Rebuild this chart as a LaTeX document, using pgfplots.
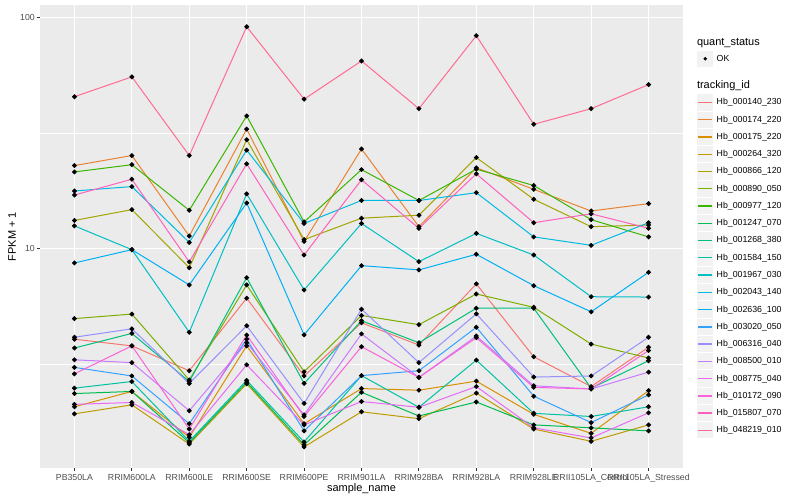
\documentclass[border=0pt]{standalone}
\usepackage{fontspec}
\setmainfont{Liberation Sans}
\usepackage{pgfplots}
\usepackage{pgfplotstable}
\pgfplotsset{compat=1.18}

\definecolor{ggbg}{HTML}{EBEBEB}
\definecolor{keybg}{HTML}{F2F2F2}
\definecolor{grey30}{HTML}{4D4D4D}
\definecolor{grey20}{HTML}{333333}
\definecolor{c01}{HTML}{F8766D}
\definecolor{c02}{HTML}{EA8331}
\definecolor{c03}{HTML}{D89000}
\definecolor{c04}{HTML}{C09B00}
\definecolor{c05}{HTML}{A3A500}
\definecolor{c06}{HTML}{7CAE00}
\definecolor{c07}{HTML}{39B600}
\definecolor{c08}{HTML}{00BB4E}
\definecolor{c09}{HTML}{00BF7D}
\definecolor{c10}{HTML}{00C1A3}
\definecolor{c11}{HTML}{00BFC4}
\definecolor{c12}{HTML}{00BAE0}
\definecolor{c13}{HTML}{00B0F6}
\definecolor{c14}{HTML}{35A2FF}
\definecolor{c15}{HTML}{9590FF}
\definecolor{c16}{HTML}{C77CFF}
\definecolor{c17}{HTML}{E76BF3}
\definecolor{c18}{HTML}{FA62DB}
\definecolor{c19}{HTML}{FF62BC}
\definecolor{c20}{HTML}{FF6C91}

\pgfplotstableread{
x  s140 s174 s175 s264 s866 s890 s977 s1247 s1268 s1584 s1967 s2043 s2636 s3020 s6316 s8500 s8775 s10172 s15807 s48219
0  4.04 22.8 2.06 1.92 13.2 4.96 21.4 2.35 3.70 2.48 12.5 17.7 8.64 3.05 4.12 3.29 2.11 2.86 17.0 45.3
1  3.78 25.2 2.40 2.10 14.7 5.19 23.0 2.40 4.28 2.65 9.86 18.5 9.86 2.80 4.48 3.20 2.15 3.78 19.9 55.2
2  2.95 11.3 1.52 1.42 8.24 2.69 14.6 1.44 2.65 1.46 4.33 10.6 6.94 1.74 2.60 1.98 1.56 1.65 8.73 25.2
3  6.08 32.8 3.78 2.59 29.5 6.94 37.4 2.63 7.46 2.68 17.2 26.6 15.7 4.04 4.62 3.90 3.13 4.21 23.2 91.0
4  2.80 10.7 1.74 1.38 10.9 2.92 13.0 1.41 2.60 1.45 6.60 12.8 4.22 1.62 2.13 1.90 1.72 1.87 9.35 44.2
5  4.76 26.9 2.47 1.96 13.5 5.12 21.9 2.38 4.86 2.81 12.8 16.1 8.41 2.81 5.45 4.26 2.17 3.75 19.8 64.7
6  3.81 12.4 2.43 1.83 13.9 4.67 16.1 1.88 3.90 2.05 8.75 16.1 8.06 2.95 3.20 2.76 2.05 2.76 12.2 40.2
7  7.01 22.3 2.66 2.36 24.7 6.34 22.0 2.16 5.50 3.28 11.6 17.4 9.42 4.55 5.20 4.17 2.52 4.10 21.0 83.2
8  3.39 18.0 1.91 1.65 16.3 5.55 18.7 1.72 5.50 1.93 9.35 11.2 6.89 2.29 2.77 2.54 1.67 2.50 12.9 34.4
9  2.52 14.5 1.58 1.46 12.4 3.85 13.3 1.67 2.48 1.87 6.17 10.3 5.31 1.76 2.80 2.46 1.51 2.46 14.1 40.2
10 3.73 15.6 2.42 1.72 12.6 3.35 11.2 1.62 3.26 2.06 6.15 12.9 7.87 2.32 4.12 2.91 1.94 3.61 12.2 51.1
}\data

\newcommand\lstrut{\rule[-2bp]{0pt}{8.4bp}}
\newcommand\tstrut{\rule[-2bp]{0pt}{9.9bp}}

\begin{document}
\begin{tikzpicture}
\path[use as bounding box] (0,0) rectangle (800bp,500bp);
\begin{axis}[
  at={(40bp,32bp)}, anchor=south west,
  scale only axis, width=643bp, height=463bp,
  ymode=log, ymin=1.119, ymax=113.0,
  xmin=-0.6, xmax=10.6,
  xtick={0,...,10},
  xticklabels={PB350LA,RRIM600LA,RRIM600LE,RRIM600SE,RRIM600PE,RRIM901LA,RRIM928BA,RRIM928LA,RRIM928LE,RRII105LA\_Control,RRII105LA\_Stressed},
  ytick={10,100}, yticklabels={10,100},
  minor ytick={3.1623,31.623},
  minor tick length=0pt,
  major tick length=2.75bp,
  tick align=outside, tick pos=left,
  tick style={grey20, line width=1.07bp},
  grid=both,
  major grid style={white, line width=1.07bp},
  minor grid style={white, line width=0.53bp},
  axis line style={draw=none},
  axis background/.style={fill=ggbg},
  ticklabel style={font=\fontsize{8.8}{10}\selectfont, text=grey30, inner sep=0pt},
  xticklabel style={anchor=north, yshift=-3.7bp},
  yticklabel style={anchor=east, xshift=-2.2bp},
  xlabel={sample\_name}, ylabel={FPKM + 1},
  label style={font=\fontsize{11}{13}\selectfont, text=black},
  xlabel style={at={(axis description cs:0.5,-0.0447)}, anchor=center},
  ylabel style={at={(axis description cs:-0.0435,0.5)}, anchor=center},
  legend style={at={(axis description cs:1.02177,0.9300)}, anchor=north west,
    draw=none, fill=none, inner sep=0pt, outer sep=0pt, row sep=0pt, column sep=3.3bp,
    font=\fontsize{8.8}{10}\selectfont, nodes={inner sep=0pt}},
  legend cell align=left,
  every axis plot/.append style={line width=1.0bp,
    legend image code/.code={\path[fill=keybg, draw=none] (0bp,-8.1bp) rectangle (16.4bp,8.1bp);
      \path[draw=none, fill=none] (0bp,-8.63bp) rectangle (16.4bp,8.63bp);
      \draw[##1, line width=1.4bp] (1.3bp,0bp) -- (15.1bp,0bp);}},
  pt/.style={only marks, mark=*, mark size=1.9bp, black, forget plot},
]
\addlegendimage{legend image code/.code={\path[draw=none, fill=none] (0bp,-8bp) rectangle (16.4bp,4bp);}}
\addlegendentry{\hspace*{-19.7bp}\fontsize{11}{13}\selectfont\tstrut quant\_status}
\addlegendimage{legend image code/.code={\path[fill=keybg, draw=none] (0bp,-8.1bp) rectangle (16.4bp,8.1bp);
      \path[draw=none, fill=none] (0bp,-8.63bp) rectangle (16.4bp,8.63bp);
      \path[fill=black, draw=none] (8.2bp,0bp) circle (1.9bp);}}
\addlegendentry{\lstrut OK}
\addlegendimage{legend image code/.code={\path[draw=none, fill=none] (0bp,-8.37bp) rectangle (16.4bp,18.07bp);}}
\addlegendentry{\hspace*{-19.7bp}\fontsize{11}{13}\selectfont\tstrut tracking\_id}

\addplot[c01, no markers] table[x=x,y=s140]{\data}; \addlegendentry{\lstrut Hb\_000140\_230}
\addplot[c02, no markers] table[x=x,y=s174]{\data}; \addlegendentry{\lstrut Hb\_000174\_220}
\addplot[c03, no markers] table[x=x,y=s175]{\data}; \addlegendentry{\lstrut Hb\_000175\_220}
\addplot[c04, no markers] table[x=x,y=s264]{\data}; \addlegendentry{\lstrut Hb\_000264\_320}
\addplot[c05, no markers] table[x=x,y=s866]{\data}; \addlegendentry{\lstrut Hb\_000866\_120}
\addplot[c06, no markers] table[x=x,y=s890]{\data}; \addlegendentry{\lstrut Hb\_000890\_050}
\addplot[c07, no markers] table[x=x,y=s977]{\data}; \addlegendentry{\lstrut Hb\_000977\_120}
\addplot[c08, no markers] table[x=x,y=s1247]{\data}; \addlegendentry{\lstrut Hb\_001247\_070}
\addplot[c09, no markers] table[x=x,y=s1268]{\data}; \addlegendentry{\lstrut Hb\_001268\_380}
\addplot[c10, no markers] table[x=x,y=s1584]{\data}; \addlegendentry{\lstrut Hb\_001584\_150}
\addplot[c11, no markers] table[x=x,y=s1967]{\data}; \addlegendentry{\lstrut Hb\_001967\_030}
\addplot[c12, no markers] table[x=x,y=s2043]{\data}; \addlegendentry{\lstrut Hb\_002043\_140}
\addplot[c13, no markers] table[x=x,y=s2636]{\data}; \addlegendentry{\lstrut Hb\_002636\_100}
\addplot[c14, no markers] table[x=x,y=s3020]{\data}; \addlegendentry{\lstrut Hb\_003020\_050}
\addplot[c15, no markers] table[x=x,y=s6316]{\data}; \addlegendentry{\lstrut Hb\_006316\_040}
\addplot[c16, no markers] table[x=x,y=s8500]{\data}; \addlegendentry{\lstrut Hb\_008500\_010}
\addplot[c17, no markers] table[x=x,y=s8775]{\data}; \addlegendentry{\lstrut Hb\_008775\_040}
\addplot[c18, no markers] table[x=x,y=s10172]{\data}; \addlegendentry{\lstrut Hb\_010172\_090}
\addplot[c19, no markers] table[x=x,y=s15807]{\data}; \addlegendentry{\lstrut Hb\_015807\_070}
\addplot[c20, no markers] table[x=x,y=s48219]{\data}; \addlegendentry{\lstrut Hb\_048219\_010}

\addplot[pt] table[x=x,y=s140]{\data};
\addplot[pt] table[x=x,y=s174]{\data};
\addplot[pt] table[x=x,y=s175]{\data};
\addplot[pt] table[x=x,y=s264]{\data};
\addplot[pt] table[x=x,y=s866]{\data};
\addplot[pt] table[x=x,y=s890]{\data};
\addplot[pt] table[x=x,y=s977]{\data};
\addplot[pt] table[x=x,y=s1247]{\data};
\addplot[pt] table[x=x,y=s1268]{\data};
\addplot[pt] table[x=x,y=s1584]{\data};
\addplot[pt] table[x=x,y=s1967]{\data};
\addplot[pt] table[x=x,y=s2043]{\data};
\addplot[pt] table[x=x,y=s2636]{\data};
\addplot[pt] table[x=x,y=s3020]{\data};
\addplot[pt] table[x=x,y=s6316]{\data};
\addplot[pt] table[x=x,y=s8500]{\data};
\addplot[pt] table[x=x,y=s8775]{\data};
\addplot[pt] table[x=x,y=s10172]{\data};
\addplot[pt] table[x=x,y=s15807]{\data};
\addplot[pt] table[x=x,y=s48219]{\data};
\end{axis}
\end{tikzpicture}
\end{document}
